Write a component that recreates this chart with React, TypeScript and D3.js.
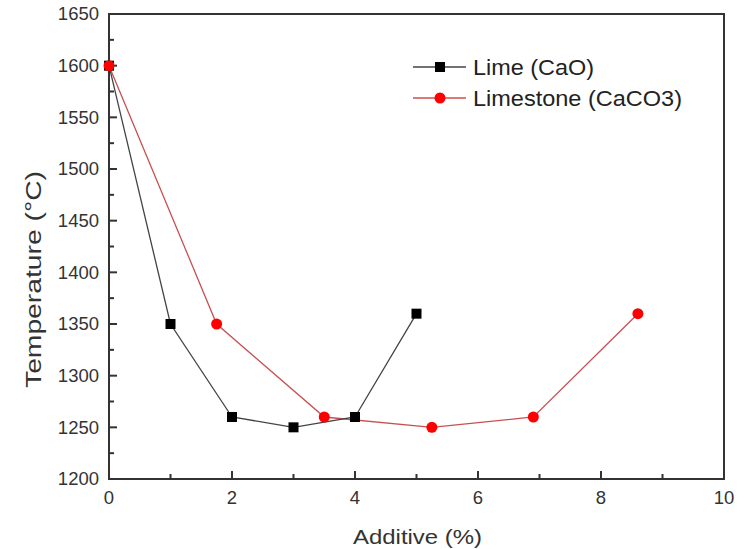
import React from 'react';
import * as d3 from 'd3';

const limeX = [0, 1, 2, 3, 4, 5];
const limeY = [1600, 1350, 1260, 1250, 1260, 1360];
const limestoneX = [0, 1.75, 3.5, 5.25, 6.9, 8.6];
const limestoneY = [1600, 1350, 1260, 1250, 1260, 1360];
const xTicks = [0, 2, 4, 6, 8, 10];
const yTicks = [1200, 1250, 1300, 1350, 1400, 1450, 1500, 1550, 1600, 1650];
const seriesNames = ['Lime (CaO)', 'Limestone (CaCO3)'];

const width = 748;
const height = 549;
const font = 'Arial, "Liberation Sans", sans-serif';

const App: React.FC = () => {
  const svgRef = React.useRef<SVGSVGElement>(null);

  React.useEffect(() => {
    if (!svgRef.current) return;
    const svg = d3.select(svgRef.current);
    svg.selectAll('*').remove();

    const left = 109;
    const right = 724;
    const top = 14;
    const bottom = 479;

    const x = d3.scaleLinear().domain([0, 10]).range([left, right]);
    const y = d3.scaleLinear().domain([1200, 1650]).range([bottom, top]);

    // frame
    svg.append('rect')
      .attr('x', left).attr('y', top)
      .attr('width', right - left).attr('height', bottom - top)
      .attr('fill', 'none').attr('stroke', '#333').attr('stroke-width', 2);

    // y ticks (inward)
    const yMinor = d3.range(1225, 1650, 50);
    svg.append('g').selectAll('line').data(yTicks).enter().append('line')
      .attr('x1', left).attr('x2', left + 8)
      .attr('y1', d => y(d)).attr('y2', d => y(d))
      .attr('stroke', '#333').attr('stroke-width', 2);
    svg.append('g').selectAll('line').data(yMinor).enter().append('line')
      .attr('x1', left).attr('x2', left + 5)
      .attr('y1', d => y(d)).attr('y2', d => y(d))
      .attr('stroke', '#333').attr('stroke-width', 2);
    svg.append('g').selectAll('text').data(yTicks).enter().append('text')
      .attr('x', left - 10).attr('y', d => y(d)).attr('dy', '0.35em')
      .attr('text-anchor', 'end')
      .attr('font-family', font).attr('font-size', 18.5).attr('fill', '#333')
      .text(d => d);

    // x ticks (inward)
    const xMinor = [1, 3, 5, 7, 9];
    svg.append('g').selectAll('line').data(xTicks).enter().append('line')
      .attr('x1', d => x(d)).attr('x2', d => x(d))
      .attr('y1', bottom).attr('y2', bottom - 8)
      .attr('stroke', '#333').attr('stroke-width', 2);
    svg.append('g').selectAll('line').data(xMinor).enter().append('line')
      .attr('x1', d => x(d)).attr('x2', d => x(d))
      .attr('y1', bottom).attr('y2', bottom - 5)
      .attr('stroke', '#333').attr('stroke-width', 2);
    svg.append('g').selectAll('text').data(xTicks).enter().append('text')
      .attr('x', d => x(d)).attr('y', bottom + 25)
      .attr('text-anchor', 'middle')
      .attr('font-family', font).attr('font-size', 18.5).attr('fill', '#333')
      .text(d => d);

    // axis titles
    svg.append('text')
      .attr('x', 353).attr('y', 544)
      .attr('textLength', 129).attr('lengthAdjust', 'spacingAndGlyphs')
      .attr('font-family', font).attr('font-size', 21).attr('fill', '#333')
      .text('Additive (%)');
    svg.append('text')
      .attr('transform', `translate(41,388) rotate(-90)`)
      .attr('textLength', 217).attr('lengthAdjust', 'spacingAndGlyphs')
      .attr('font-family', font).attr('font-size', 22).attr('fill', '#333')
      .text('Temperature (°C)');

    const line = d3.line<[number, number]>()
      .x(d => x(d[0]))
      .y(d => y(d[1]));

    const limePts: [number, number][] = limeX.map((v, i) => [v, limeY[i]]);
    const stonePts: [number, number][] = limestoneX.map((v, i) => [v, limestoneY[i]]);

    svg.append('path').datum(stonePts).attr('d', line)
      .attr('fill', 'none').attr('stroke', '#c85050').attr('stroke-width', 1.3);
    svg.append('path').datum(limePts).attr('d', line)
      .attr('fill', 'none').attr('stroke', '#444').attr('stroke-width', 1.3);

    svg.append('g').selectAll('rect').data(limePts).enter().append('rect')
      .attr('x', d => x(d[0]) - 5).attr('y', d => y(d[1]) - 5)
      .attr('width', 10).attr('height', 10).attr('fill', '#000');
    svg.append('g').selectAll('circle').data(stonePts).enter().append('circle')
      .attr('cx', d => x(d[0])).attr('cy', d => y(d[1])).attr('r', 5.5)
      .attr('fill', '#f00');

    // legend
    const legendLengths = [121, 209];
    const legend = svg.append('g');
    seriesNames.forEach((name, i) => {
      const ly = 67 + i * 31;
      const g = legend.append('g');
      g.append('line')
        .attr('x1', 413).attr('x2', 466).attr('y1', ly).attr('y2', ly)
        .attr('stroke', i === 0 ? '#444' : '#c85050').attr('stroke-width', 1.3);
      if (i === 0) {
        g.append('rect').attr('x', 435).attr('y', ly - 5).attr('width', 10).attr('height', 10).attr('fill', '#000');
      } else {
        g.append('circle').attr('cx', 440).attr('cy', ly).attr('r', 5.5).attr('fill', '#f00');
      }
      g.append('text')
        .attr('x', 473).attr('y', ly).attr('dy', '0.36em')
        .attr('textLength', legendLengths[i]).attr('lengthAdjust', 'spacingAndGlyphs')
        .attr('font-family', font).attr('font-size', 22).attr('fill', '#222')
        .text(name);
    });
  }, []);

  return (
    <svg
      ref={svgRef}
      width={width}
      height={height}
      style={{ position: 'absolute', left: 0, top: 0, background: '#fff' }}
    />
  );
};

export default App;
